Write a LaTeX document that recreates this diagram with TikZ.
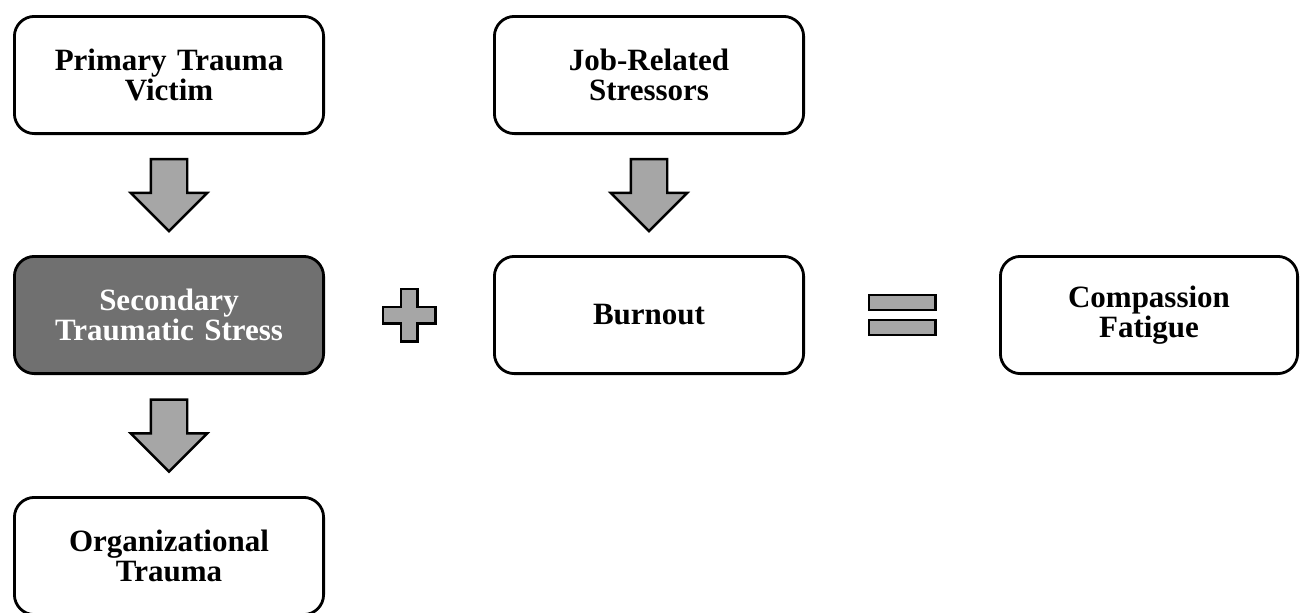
\documentclass[tikz,border=0pt]{standalone}
\usepackage{fontspec}
\setmainfont{Liberation Serif}
\usetikzlibrary{shapes,arrows,positioning,calc}

\definecolor{stsgray}{HTML}{707070}
\definecolor{arrowgray}{HTML}{A6A6A6}

\begin{document}
\begin{tikzpicture}[node distance=60pt]
\tikzstyle{block} = [rectangle, draw, line width=1.4pt, fill=white, text width=140pt, text centered, rounded corners=10pt, minimum width=154.6pt, minimum height=58.6pt, inner sep=0pt, font=\fontsize{15.5}{15}\selectfont\bfseries]
\tikzstyle{downarrow} = [single arrow, draw, line width=1.2pt, fill=arrowgray, minimum height=36pt, minimum width=37pt, single arrow head extend=10pt, single arrow tip angle=90, single arrow head indent=0pt, shape border rotate=270, inner sep=8.5pt, yshift=4.5pt]
\tikzstyle{sign} = [draw, line width=1.2pt, fill=arrowgray]
\tikzstyle{bar} = [rectangle, sign, minimum width=33.3pt, minimum height=7.3pt, inner sep=0pt]

\useasboundingbox (0,0) rectangle (650pt,-306pt);

% Left column
\node [block] (primary) at (84.5pt,-37.5pt) {Primary Trauma\\Victim};
\node [block, fill=stsgray, text=white, below=of primary] (secondary) {Secondary\\Traumatic Stress};
\node [block, below=60.5pt of secondary] (organizational) {Organizational\\Trauma};

% Middle and right
\node [block, right=84pt of primary] (jobstress) {Job-Related\\Stressors};
\node [block, below=of jobstress] (burnout) {Burnout};
\node [block, right=97pt of burnout, minimum width=148.6pt] (compassion) {Compassion\\Fatigue};

% Block arrows
\node [downarrow] (arrowA) at ($(primary.south)!0.5!(secondary.north)$) {};
\node [downarrow] (arrowB) at ($(secondary.south)!0.5!(organizational.north)$) {};
\node [downarrow] (arrowC) at ($(jobstress.south)!0.5!(burnout.north)$) {};

% Plus sign
\coordinate (plus) at ($(secondary.east)!0.5!(burnout.west)$);
\begin{scope}[shift={(plus)}]
\draw [sign] (-4.15pt,13.15pt) -- (4.15pt,13.15pt) -- (4.15pt,4.15pt) -- (13.15pt,4.15pt) -- (13.15pt,-4.15pt) -- (4.15pt,-4.15pt) -- (4.15pt,-13.15pt) -- (-4.15pt,-13.15pt) -- (-4.15pt,-4.15pt) -- (-13.15pt,-4.15pt) -- (-13.15pt,4.15pt) -- (-4.15pt,4.15pt) -- cycle;
\end{scope}

% Equals sign
\coordinate (equals) at ($(burnout.east)!0.5!(compassion.west)$);
\node [bar] (eqtop) at ($(equals)+(0,6.25pt)$) {};
\node [bar] (eqbottom) at ($(equals)+(0,-6.25pt)$) {};

\end{tikzpicture}
\end{document}
